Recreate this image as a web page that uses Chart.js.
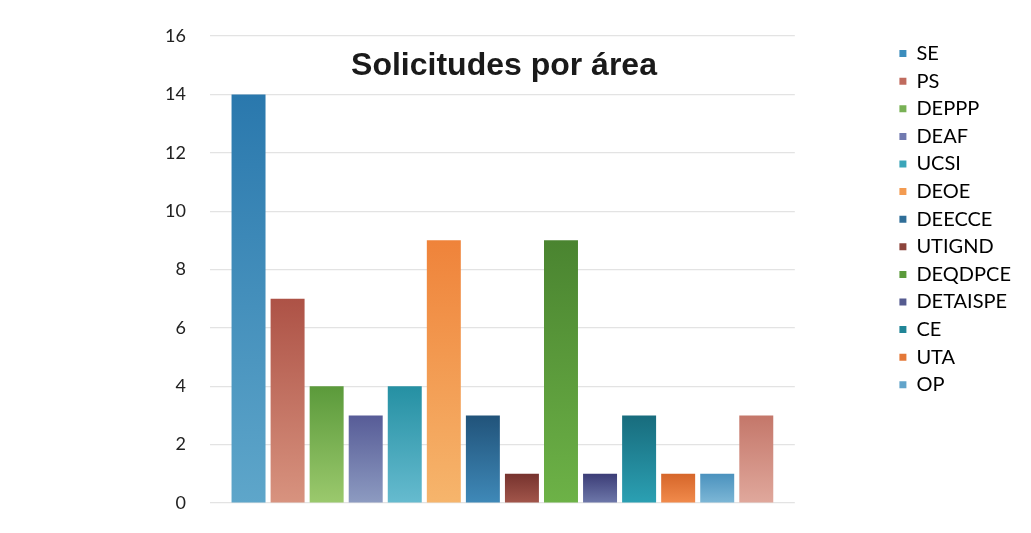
<!DOCTYPE html>
<html>
<head>
<meta charset="utf-8">
<script src="https://cdn.jsdelivr.net/npm/chart.js@4/dist/chart.umd.min.js"></script>
<style>
html,body{margin:0;padding:0;background:#fff;}
#wrap{position:relative;width:1031px;height:533px;}
</style>
</head>
<body>
<div id="wrap"><canvas id="c"></canvas></div>
<script>
const categories = [''];
const seriesNames = ['SE','PS','DEPPP','DEAF','UCSI','DEOE','DEECCE','UTIGND','DEQDPCE','DETAISPE','CE','UTA','OP',''];
const seriesValues = [14,7,4,3,4,9,3,1,9,1,3,1,1,3];
const yTickValues = [0,2,4,6,8,10,12,14,16];
const titleText = 'Solicitudes por área';

const topColors = ['#2a78ad','#ad5246','#5b9a3b','#575c97','#2590a3','#ef833a','#21537a','#77332e','#4a8430','#3c3d77','#186c7d','#d6662a','#4b92be','#c4776a'];
const bottomColors = ['#5ea6ca','#d8937f','#9bc96d','#8d9bc1','#66bbcf','#f6b56c','#3f89b8','#a2564b','#6db247','#6e78aa','#2ba0b3','#f18b4c','#7db7d6','#e0a89c'];
const legendColors = ['#3b8dbd','#c06b5e','#78b155','#717ab0','#3aa5b9','#f39b51','#2f6e98','#8c443c','#5b9b3b','#555b90','#208597','#e47838','#62a4ca','#d28f82'];

function gradFor(i){
  return function(ctx){
    const ca = ctx.chart.chartArea;
    if(!ca) return legendColors[i];
    const y0 = ctx.chart.scales.y.getPixelForValue(seriesValues[i]);
    const y1 = ctx.chart.scales.y.getPixelForValue(0);
    const g = ctx.chart.ctx.createLinearGradient(0, y0, 0, y1);
    g.addColorStop(0, topColors[i]);
    g.addColorStop(1, bottomColors[i]);
    return g;
  };
}

const datasets = seriesNames.map((n,i)=>({
  label: n,
  data: [seriesValues[i]],
  backgroundColor: gradFor(i),
  borderWidth: 0,
  categoryPercentage: 0.935,
  barPercentage: 0.87
}));

const titlePlugin = {
  id:'overTitle',
  afterDraw(chart){
    const c = chart.ctx;
    c.save();
    c.font = 'bold 32px "Liberation Sans", Arial, sans-serif';
    c.fillStyle = '#1a1a1a';
    c.textAlign = 'center';
    c.textBaseline = 'alphabetic';
    c.fillText(titleText, 504, 75);
    c.restore();
  }
};

new Chart(document.getElementById('c'), {
  type:'bar',
  data:{labels:categories, datasets},
  plugins:[titlePlugin],
  options:{
    responsive:true,
    maintainAspectRatio:false,
    animation:false,
    layout:{padding:{top:36,right:10,bottom:30,left:0}},
    plugins:{
      title:{display:false},
      tooltip:{enabled:false},
      legend:{
        position:'right',
        align:'start',
        labels:{
          boxWidth:7, boxHeight:7,
          padding:7.6,
          color:'#222',
          font:{family:'Lato, "Open Sans", sans-serif', size:20},
          filter:(item)=>item.text !== '',
          generateLabels(chart){
            return chart.data.datasets.map((d,i)=>({
              text:d.label, fillStyle:legendColors[i], strokeStyle:legendColors[i],
              lineWidth:0, hidden:false, datasetIndex:i
            }));
          }
        }
      }
    },
    scales:{
      x:{
        grid:{display:false},
        border:{display:false},
        ticks:{display:false},
        afterFit(s){ s.height = 0; s.paddingLeft = 0; s.paddingRight = 0; }
      },
      y:{
        min:0, max:16,
        afterBuildTicks(s){ s.ticks = yTickValues.map(v=>({value:v})); },
        afterFit(s){ s.width = 210; s.paddingTop = 0; s.paddingBottom = 0; },
        grid:{color:'#e3e3e3', lineWidth:1.2, drawTicks:false},
        border:{display:false},
        ticks:{padding:24, color:'#222', font:{family:'Lato, "Open Sans", sans-serif', size:18}}
      },
      gap:{
        position:'right',
        display:true,
        grid:{display:false},
        border:{display:false},
        ticks:{display:false},
        afterFit(s){ s.width = 97; s.paddingTop = 0; s.paddingBottom = 0; }
      }
    }
  }
});
</script>
</body>
</html>
